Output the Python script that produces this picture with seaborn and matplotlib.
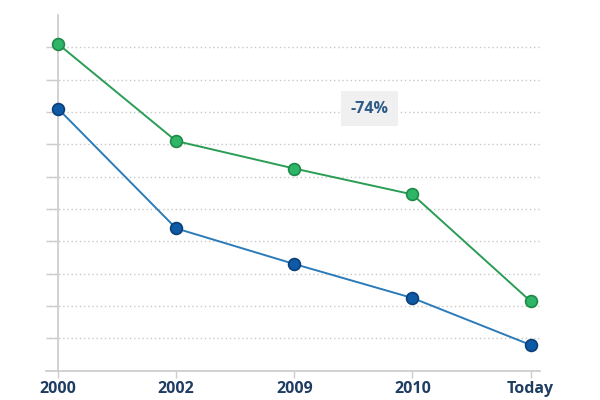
import matplotlib
matplotlib.use("Agg")
import matplotlib.pyplot as plt
import numpy as np
import pandas as pd
import seaborn as sns

sns.set_theme(style="white")
plt.rcParams['font.family'] = ['Open Sans', 'DejaVu Sans']

years = ["2000", "2002", "2009", "2010", "Today"]
green_vals = [10.1, 7.1, 6.25, 5.45, 2.15]
blue_vals = [8.1, 4.4, 3.3, 2.25, 0.8]
change_label = "-74%"

df = pd.DataFrame({
    "year": years * 2,
    "pos": list(range(len(years))) * 2,
    "value": green_vals + blue_vals,
    "series": ["green"] * len(years) + ["blue"] * len(years),
})

fig = plt.figure(figsize=(6, 4), dpi=100)
ax = fig.add_axes([0.077, 0.073, 0.823, 0.89])

styles = {
    "green": dict(line="#2a9d55", face="#2fb567", edge="#1f8a48"),
    "blue": dict(line="#2b7bb9", face="#0e5aa6", edge="#0b3f78"),
}
for name, st in styles.items():
    sns.lineplot(data=df[df.series == name], x="pos", y="value", ax=ax,
                 color=st["line"], lw=1.4, marker="o", markersize=8.5,
                 markerfacecolor=st["face"], markeredgecolor=st["edge"],
                 markeredgewidth=1.2, zorder=3)

ax.set_xlim(-0.1, 4.08)
ax.set_ylim(0, 11)
ax.set_xticks(range(len(years)))
ax.set_xticklabels(years, fontsize=11.5, fontweight="bold", color="#1f3d63")
ax.set_yticks(np.arange(1, 11))
ax.set_yticklabels([])
ax.set_xlabel("")
ax.set_ylabel("")

ax.yaxis.grid(True, linestyle=(0, (1, 2)), color="#c8c8c8", lw=1)
ax.set_axisbelow(True)

for s in ["top", "right"]:
    ax.spines[s].set_visible(False)
ax.spines["left"].set_position(("data", 0))
ax.spines["left"].set_color("#cccccc")
ax.spines["bottom"].set_color("#cccccc")
ax.tick_params(axis="y", length=8, color="#cccccc", width=1, left=True)
ax.tick_params(axis="x", length=5, color="#cccccc", width=1, bottom=True, pad=2)

ax.text(2.64, 8.1, change_label, ha="center", va="center", fontsize=11.5,
        fontweight="bold", color="#2e5b86",
        bbox=dict(boxstyle="square,pad=0.6", fc="#f0f0f0", ec="none"))

fig.savefig("out.png", dpi=100)
